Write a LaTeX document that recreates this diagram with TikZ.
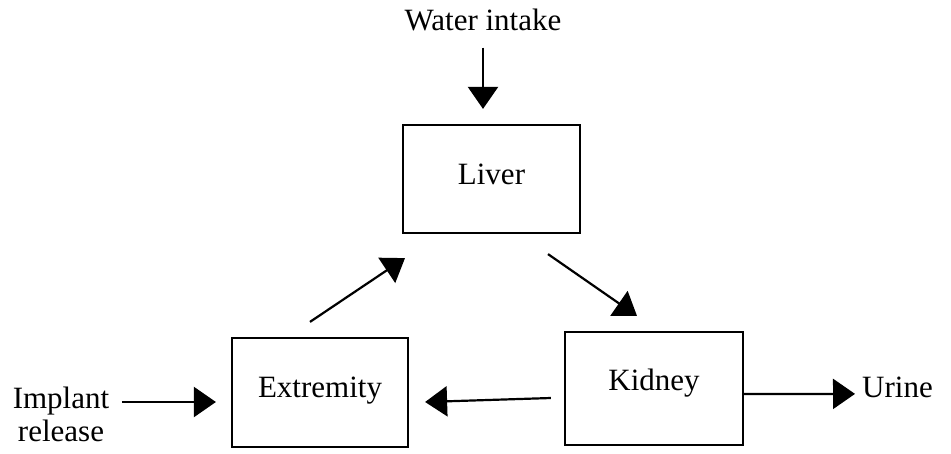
\documentclass[tikz,border=0pt]{standalone}
\usepackage{fontspec}
\setmainfont{Liberation Serif}
\usetikzlibrary{arrows.meta}
\begin{document}
\begin{tikzpicture}[x=1pt,y=-1pt,
  lbl/.style={inner sep=0pt, font=\fontsize{31}{33}\selectfont},
  box/.style={draw, line width=2.2pt, inner sep=0pt, text height=20pt, text depth=6pt,
              font=\fontsize{31}{33}\selectfont},
  arr/.style={line width=2.2pt, -{Triangle[length=22pt,width=30pt]}}]
\useasboundingbox (0,0) rectangle (951,453);
% boxes
\node[box, minimum width=177pt, minimum height=108pt] (liv) at (491.5,179) {\raisebox{2pt}{Liver}};
\node[box, minimum width=176pt, minimum height=109pt] (ext) at (320,392.5) {\raisebox{2.5pt}{Extremity}};
\node[box, minimum width=178pt, minimum height=113pt] (kid) at (654,388.5) {\raisebox{5.5pt}{Kidney}};
% labels
\node[lbl, anchor=base] (wat) at (483,30) {Water intake};
\node[lbl, align=center] (imp) at (61,414.5) {Implant\\release};
\node[lbl, anchor=base west] (uri) at (862,397) {Urine};
% connectors
\draw[arr] ([yshift=-17pt]wat.south) -- ([yshift=15pt]liv.north -| wat.south);
\draw[arr] ([xshift=12.5pt,yshift=12.5pt]imp.east) -- ([xshift=-15pt,yshift=-9.5pt]ext.west);
\draw[arr] ([xshift=-10pt,yshift=15pt]ext.north) -- ([xshift=-86.5pt,yshift=-24pt]liv.south);
\draw[arr] ([xshift=56.5pt,yshift=-20pt]liv.south) -- ([xshift=-17pt,yshift=15pt]kid.north);
\draw[arr] ([xshift=-13pt,yshift=-9.5pt]kid.west) -- ([xshift=16pt,yshift=-9.5pt]ext.east);
\draw[arr] ([yshift=-5.5pt]kid.east) -- ([xshift=-7pt,yshift=-7pt]uri.west);
\end{tikzpicture}
\end{document}
